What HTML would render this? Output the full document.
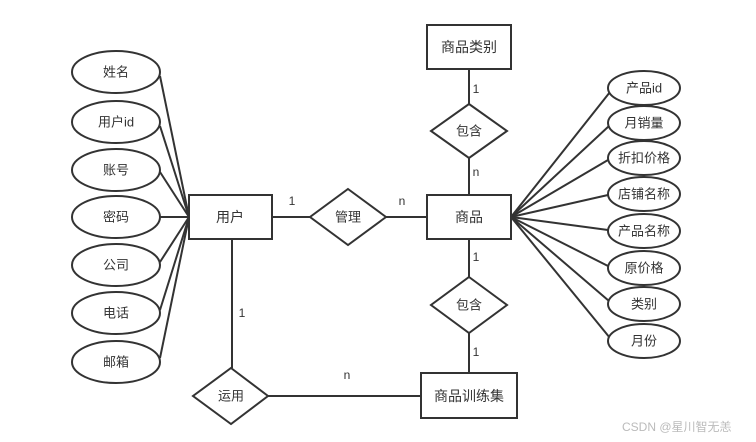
<!DOCTYPE html>
<html><head><meta charset="utf-8"><style>
html,body{margin:0;padding:0;background:#fff;}
svg text{font-family:"Liberation Sans","Noto Sans CJK SC",sans-serif;fill:#333;}
</style></head><body>
<svg width="756" height="437" viewBox="0 0 756 437" xmlns="http://www.w3.org/2000/svg">
<g stroke="#333" stroke-width="2" fill="none">
<!-- left fan -->
<line x1="189" y1="217" x2="160" y2="76"/>
<line x1="189" y1="217" x2="160" y2="126"/>
<line x1="189" y1="217" x2="160" y2="172"/>
<line x1="189" y1="217" x2="160" y2="217"/>
<line x1="189" y1="217" x2="160" y2="262"/>
<line x1="189" y1="217" x2="160" y2="310"/>
<line x1="189" y1="217" x2="160" y2="358"/>
<!-- right fan -->
<line x1="511" y1="217" x2="610" y2="92"/>
<line x1="511" y1="217" x2="609" y2="126"/>
<line x1="511" y1="217" x2="608" y2="160"/>
<line x1="511" y1="217" x2="608" y2="195"/>
<line x1="511" y1="217" x2="608" y2="230"/>
<line x1="511" y1="217" x2="608" y2="266"/>
<line x1="511" y1="217" x2="609" y2="301"/>
<line x1="511" y1="217" x2="610" y2="338"/>
<!-- connectors -->
<line x1="272" y1="217" x2="310" y2="217"/>
<line x1="386" y1="217" x2="427" y2="217"/>
<line x1="469" y1="68" x2="469" y2="104"/>
<line x1="469" y1="157" x2="469" y2="195"/>
<line x1="469" y1="239" x2="469" y2="277"/>
<line x1="469" y1="333" x2="469" y2="373"/>
<line x1="232" y1="239" x2="232" y2="368"/>
<line x1="268" y1="396" x2="420" y2="396"/>
</g>
<g stroke="#333" stroke-width="2" fill="#fff">
<ellipse cx="116" cy="72" rx="44" ry="21"/>
<ellipse cx="116" cy="122" rx="44" ry="21"/>
<ellipse cx="116" cy="170" rx="44" ry="21"/>
<ellipse cx="116" cy="217" rx="44" ry="21"/>
<ellipse cx="116" cy="265" rx="44" ry="21"/>
<ellipse cx="116" cy="313" rx="44" ry="21"/>
<ellipse cx="116" cy="362" rx="44" ry="21"/>
<ellipse cx="644" cy="88" rx="36" ry="17"/>
<ellipse cx="644" cy="123" rx="36" ry="17"/>
<ellipse cx="644" cy="158" rx="36" ry="17"/>
<ellipse cx="644" cy="194" rx="36" ry="17"/>
<ellipse cx="644" cy="231" rx="36" ry="17"/>
<ellipse cx="644" cy="268" rx="36" ry="17"/>
<ellipse cx="644" cy="304" rx="36" ry="17"/>
<ellipse cx="644" cy="341" rx="36" ry="17"/>
<rect x="189" y="195" width="83" height="44"/>
<rect x="427" y="195" width="84" height="44"/>
<rect x="427" y="25" width="84" height="44"/>
<rect x="421" y="373" width="96" height="45"/>
<polygon points="348,189 386,217 348,245 310,217"/>
<polygon points="469,104 507,131 469,158 431,131"/>
<polygon points="469,277 507,305 469,333 431,305"/>
<polygon points="231,368 268,396 231,424 193,396"/>
</g>
<g font-size="13" text-anchor="middle" dominant-baseline="central">
<text x="116" y="72">姓名</text>
<text x="116" y="122">用户id</text>
<text x="116" y="170">账号</text>
<text x="116" y="217">密码</text>
<text x="116" y="265">公司</text>
<text x="116" y="313">电话</text>
<text x="116" y="362">邮箱</text>
<text x="644" y="88">产品id</text>
<text x="644" y="123">月销量</text>
<text x="644" y="158">折扣价格</text>
<text x="644" y="194">店铺名称</text>
<text x="644" y="231">产品名称</text>
<text x="644" y="268">原价格</text>
<text x="644" y="304">类别</text>
<text x="644" y="341">月份</text>
<text x="348" y="217">管理</text>
<text x="469" y="131">包含</text>
<text x="469" y="305">包含</text>
<text x="231" y="396">运用</text>
<text x="230" y="217" font-size="14">用户</text>
<text x="469" y="217" font-size="14">商品</text>
<text x="469" y="47" font-size="14">商品类别</text>
<text x="469" y="396" font-size="14">商品训练集</text>
<text x="292" y="201" font-size="12">1</text>
<text x="402" y="201" font-size="12">n</text>
<text x="476" y="89" font-size="12">1</text>
<text x="476" y="172" font-size="12">n</text>
<text x="476" y="257" font-size="12">1</text>
<text x="476" y="352" font-size="12">1</text>
<text x="242" y="313" font-size="12">1</text>
<text x="347" y="375" font-size="12">n</text>
</g>
<text x="622" y="427" font-size="12" style="fill:#bbb" dominant-baseline="central">CSDN @星川智无恙</text>
</svg>
</body></html>
